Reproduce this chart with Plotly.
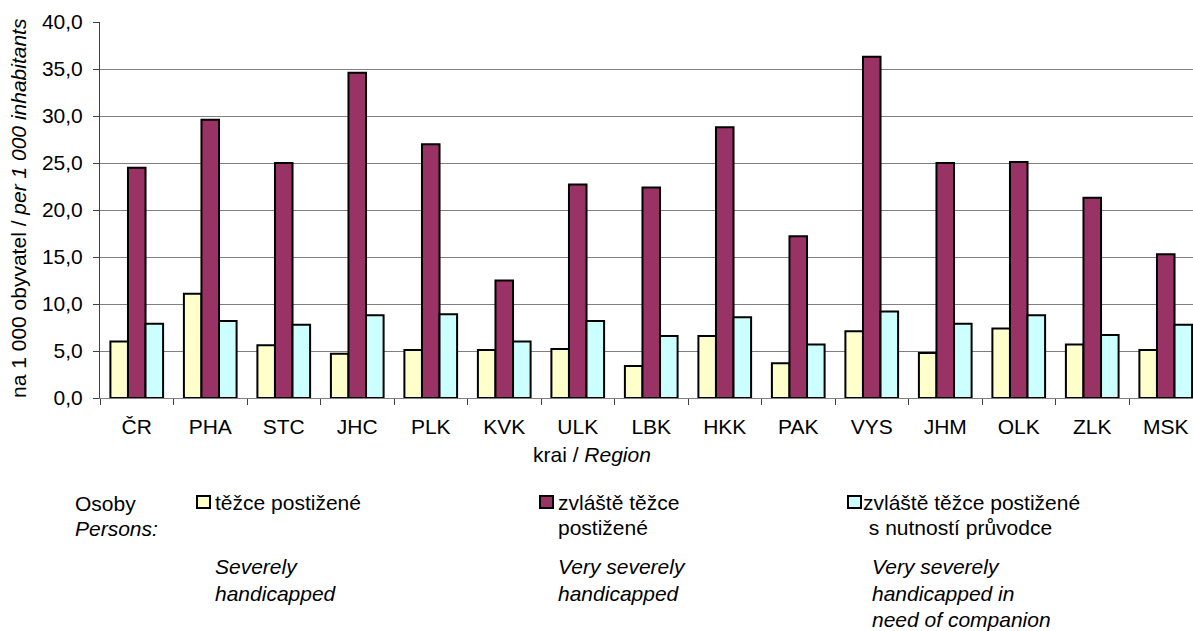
import plotly.graph_objects as go

regions = ["ČR", "PHA", "STC", "JHC", "PLK", "KVK", "ULK", "LBK", "HKK", "PAK", "VYS", "JHM", "OLK", "ZLK", "MSK"]
severe = [6.0, 11.1, 5.6, 4.7, 5.1, 5.1, 5.2, 3.4, 6.6, 3.7, 7.1, 4.8, 7.4, 5.7, 5.1]
very_severe = [24.5, 29.6, 25.0, 34.6, 27.0, 12.5, 22.7, 22.4, 28.8, 17.2, 36.3, 25.0, 25.1, 21.3, 15.3]
companion = [7.9, 8.2, 7.8, 8.8, 8.9, 6.0, 8.2, 6.6, 8.6, 5.7, 9.2, 7.9, 8.8, 6.7, 7.8]

series_names = ["těžce postižené", "zvláště těžce postižené", "zvláště těžce postižené s nutností průvodce"]
series_values = [severe, very_severe, companion]
colors = ["#FFFFCC", "#993366", "#CCFFFF"]

W, H = 1193, 631
L, T, R = 100, 22, 0
B = H - 398
PW = W - L - R
PH = H - T - B
FONT = "Liberation Sans, Arial, sans-serif"
FS = 21


def px(x):
    return (x - L) / PW


def py(y):
    return (H - B - y) / PH


fig = go.Figure()
for name, vals, col in zip(series_names, series_values, colors):
    fig.add_trace(go.Bar(
        x=list(range(len(regions))), y=vals, name=name,
        marker=dict(color=col, line=dict(color="#000000", width=2)),
        showlegend=False,
    ))

annotations = []


def text(x, y, s, xanchor="left", **kw):
    annotations.append(dict(
        x=px(x), y=py(y), xref="paper", yref="paper", text=s, showarrow=False,
        xanchor=xanchor, yanchor="middle", font=dict(family=FONT, size=FS, color="#000000"), **kw))


# axis titles
text(18, 208, "na 1 000 obyvatel / <i>per 1 000 inhabitants</i>", xanchor="center", textangle=-90)
text(592, 454, "krai / <i>Region</i>", xanchor="center")

# legend block
text(73, 503, "Osoby")
text(73, 528, "<i>Persons:</i>")
text(213, 502, "těžce postižené")
text(213, 566, "<i>Severely</i>")
text(213, 593, "<i>handicapped</i>")
text(556, 502, "zvláště těžce")
text(556, 527, "postižené")
text(556, 566, "<i>Very severely</i>")
text(556, 593, "<i>handicapped</i>")
text(861, 502, "zvláště těžce postižené")
text(861, 527, " s nutností průvodce")
text(870, 566, "<i>Very severely</i>")
text(870, 593, "<i>handicapped in</i>")
text(870, 619, "<i>need of companion</i>")

shapes = []
for (x0, x1), col in zip([(197, 210), (540, 553), (848, 861)], colors):
    shapes.append(dict(type="rect", xref="paper", yref="paper",
                       x0=px(x0), x1=px(x1), y0=py(508), y1=py(496),
                       fillcolor=col, line=dict(color="#000000", width=2)))

fig.update_layout(
    width=W, height=H,
    margin=dict(l=L, r=R, t=T, b=B),
    paper_bgcolor="#FFFFFF", plot_bgcolor="#FFFFFF",
    barmode="group", bargap=0.283, bargroupgap=0,
    separators=", ",
    hovermode=False,
    font=dict(family=FONT, size=FS, color="#000000"),
    annotations=annotations, shapes=shapes,
)
xr = [-0.5, -0.5 + PW / 73.5]
fig.update_xaxes(
    type="linear", range=xr,
    tickmode="array", tickvals=list(range(len(regions))), ticktext=regions,
    ticks="", showgrid=False, zeroline=False,
    showline=True, linecolor="#808080", linewidth=1,
    ticklabelstandoff=10,
)
# boundary ticks on x axis
fig.add_trace(go.Scatter(x=[], y=[], showlegend=False, xaxis="x2"))
fig.update_layout(xaxis2=dict(
    overlaying="x", anchor="y", side="bottom", range=xr,
    tickmode="array", tickvals=[i - 0.5 for i in range(len(regions) + 1)],
    ticktext=[""] * (len(regions) + 1),
    ticks="outside", ticklen=6, tickcolor="#404040", tickwidth=1,
    showgrid=False, zeroline=False, showline=False,
))
fig.update_yaxes(
    range=[0, 40], dtick=5, tickformat=".1f",
    ticks="outside", ticklen=6, tickcolor="#404040", tickwidth=1,
    showgrid=True, gridcolor="#808080", gridwidth=1,
    zeroline=False, showline=True, linecolor="#404040", linewidth=1,
    ticklabelstandoff=6,
)

fig.write_html(
    "out.html",
    config={"displayModeBar": False},
    post_script="document.body.style.margin='0';document.body.style.overflow='hidden';",
)
